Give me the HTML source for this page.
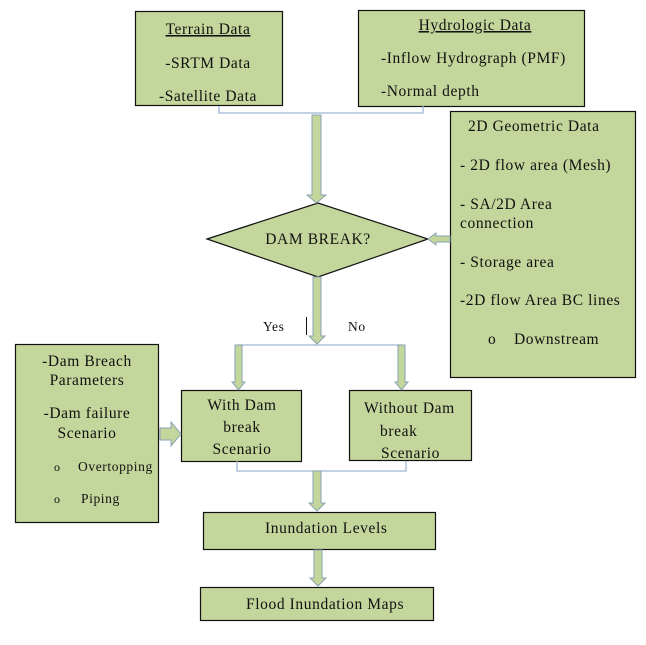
<!DOCTYPE html>
<html><head><style>
body{margin:0;background:#fff;}
svg text{font-family:"Liberation Serif",serif;fill:#111;letter-spacing:0.6px;}
</style></head><body>
<svg width="646" height="640" xmlns="http://www.w3.org/2000/svg">
<g fill="#c3d69b" stroke="#111" stroke-width="1.2">
<rect x="135.5" y="11.5" width="147" height="94"/>
<rect x="358.5" y="10.5" width="226" height="96"/>
<rect x="450.5" y="111.5" width="185" height="266"/>
<polygon points="207,239 318,203 428,239 318,277"/>
<rect x="15.5" y="344.5" width="143" height="178"/>
<rect x="181.5" y="390.5" width="120" height="71"/>
<rect x="349.5" y="390.5" width="122" height="70"/>
<rect x="203.5" y="512.5" width="232" height="37"/>
<rect x="200.5" y="587.5" width="233" height="33"/>
</g>
<g fill="none" stroke="#9db7d3" stroke-width="1.3">
<polyline points="219,106 219,113 423,113 423,106"/>
<polyline points="238,345 402,345"/>
<polyline points="237,461 237,471 406,471 406,461"/>
</g>
<g fill="#c3d69b" stroke="#8aa2b5" stroke-width="1">
<polygon points="312,115 321,115 321,195 326,195 316.5,203 307,195 312,195"/>
<polygon points="313,277 321,277 321,336 325,336 317,344 309,336 313,336"/>
<polygon points="235,345 242,345 242,382 245,382 238.5,390 232,382 235,382"/>
<polygon points="398,345 405,345 405,382 408,382 401.5,390 395,382 398,382"/>
<polygon points="313,471 321,471 321,503 325,503 317,511 309,503 313,503"/>
<polygon points="314,550 322,550 322,578 326,578 318,586 310,578 314,578"/>
<polygon points="450,236 436,236 436,233 428,239 436,245 436,242 450,242"/>
<polygon points="160,428 171,428 171,422 181,434 171,446 171,440 160,440"/>
</g>
<line x1="306.5" y1="317" x2="306.5" y2="335" stroke="#111" stroke-width="1"/>
<g font-size="15.5">
<text x="208" y="34" text-anchor="middle" text-decoration="underline">Terrain Data</text>
<text x="208" y="68" text-anchor="middle">-SRTM Data</text>
<text x="208" y="101" text-anchor="middle">-Satellite Data</text>
<text x="475" y="30" text-anchor="middle" text-decoration="underline">Hydrologic Data</text>
<text x="381" y="63">-Inflow Hydrograph (PMF)</text>
<text x="381" y="96">-Normal depth</text>
<text x="468" y="131">2D Geometric Data</text>
<text x="460" y="170">- 2D flow area (Mesh)</text>
<text x="460" y="209">- SA/2D Area</text>
<text x="460" y="228">connection</text>
<text x="460" y="267">- Storage area</text>
<text x="460" y="305">-2D flow Area BC lines</text>
<text x="488" y="344">o</text>
<text x="514" y="344">Downstream</text>
<text x="318" y="244" text-anchor="middle">DAM BREAK?</text>
<text x="263" y="331" font-size="13.5">Yes</text>
<text x="348" y="331" font-size="13.5">No</text>
<text x="87" y="366" text-anchor="middle">-Dam Breach</text>
<text x="87" y="385" text-anchor="middle">Parameters</text>
<text x="87" y="418" text-anchor="middle">-Dam failure</text>
<text x="87" y="438" text-anchor="middle">Scenario</text>
<text x="54" y="471" font-size="12">o</text>
<text x="78" y="471" font-size="13.5">Overtopping</text>
<text x="54" y="503" font-size="12">o</text>
<text x="81" y="503" font-size="13.5">Piping</text>
<text x="242" y="410" text-anchor="middle">With Dam</text>
<text x="242" y="432" text-anchor="middle">break</text>
<text x="242" y="454" text-anchor="middle">Scenario</text>
<text x="364" y="413">Without Dam</text>
<text x="380" y="436">break</text>
<text x="381" y="458">Scenario</text>
<text x="265" y="533">Inundation Levels</text>
<text x="246" y="609">Flood Inundation Maps</text>
</g>
</svg>
</body></html>
